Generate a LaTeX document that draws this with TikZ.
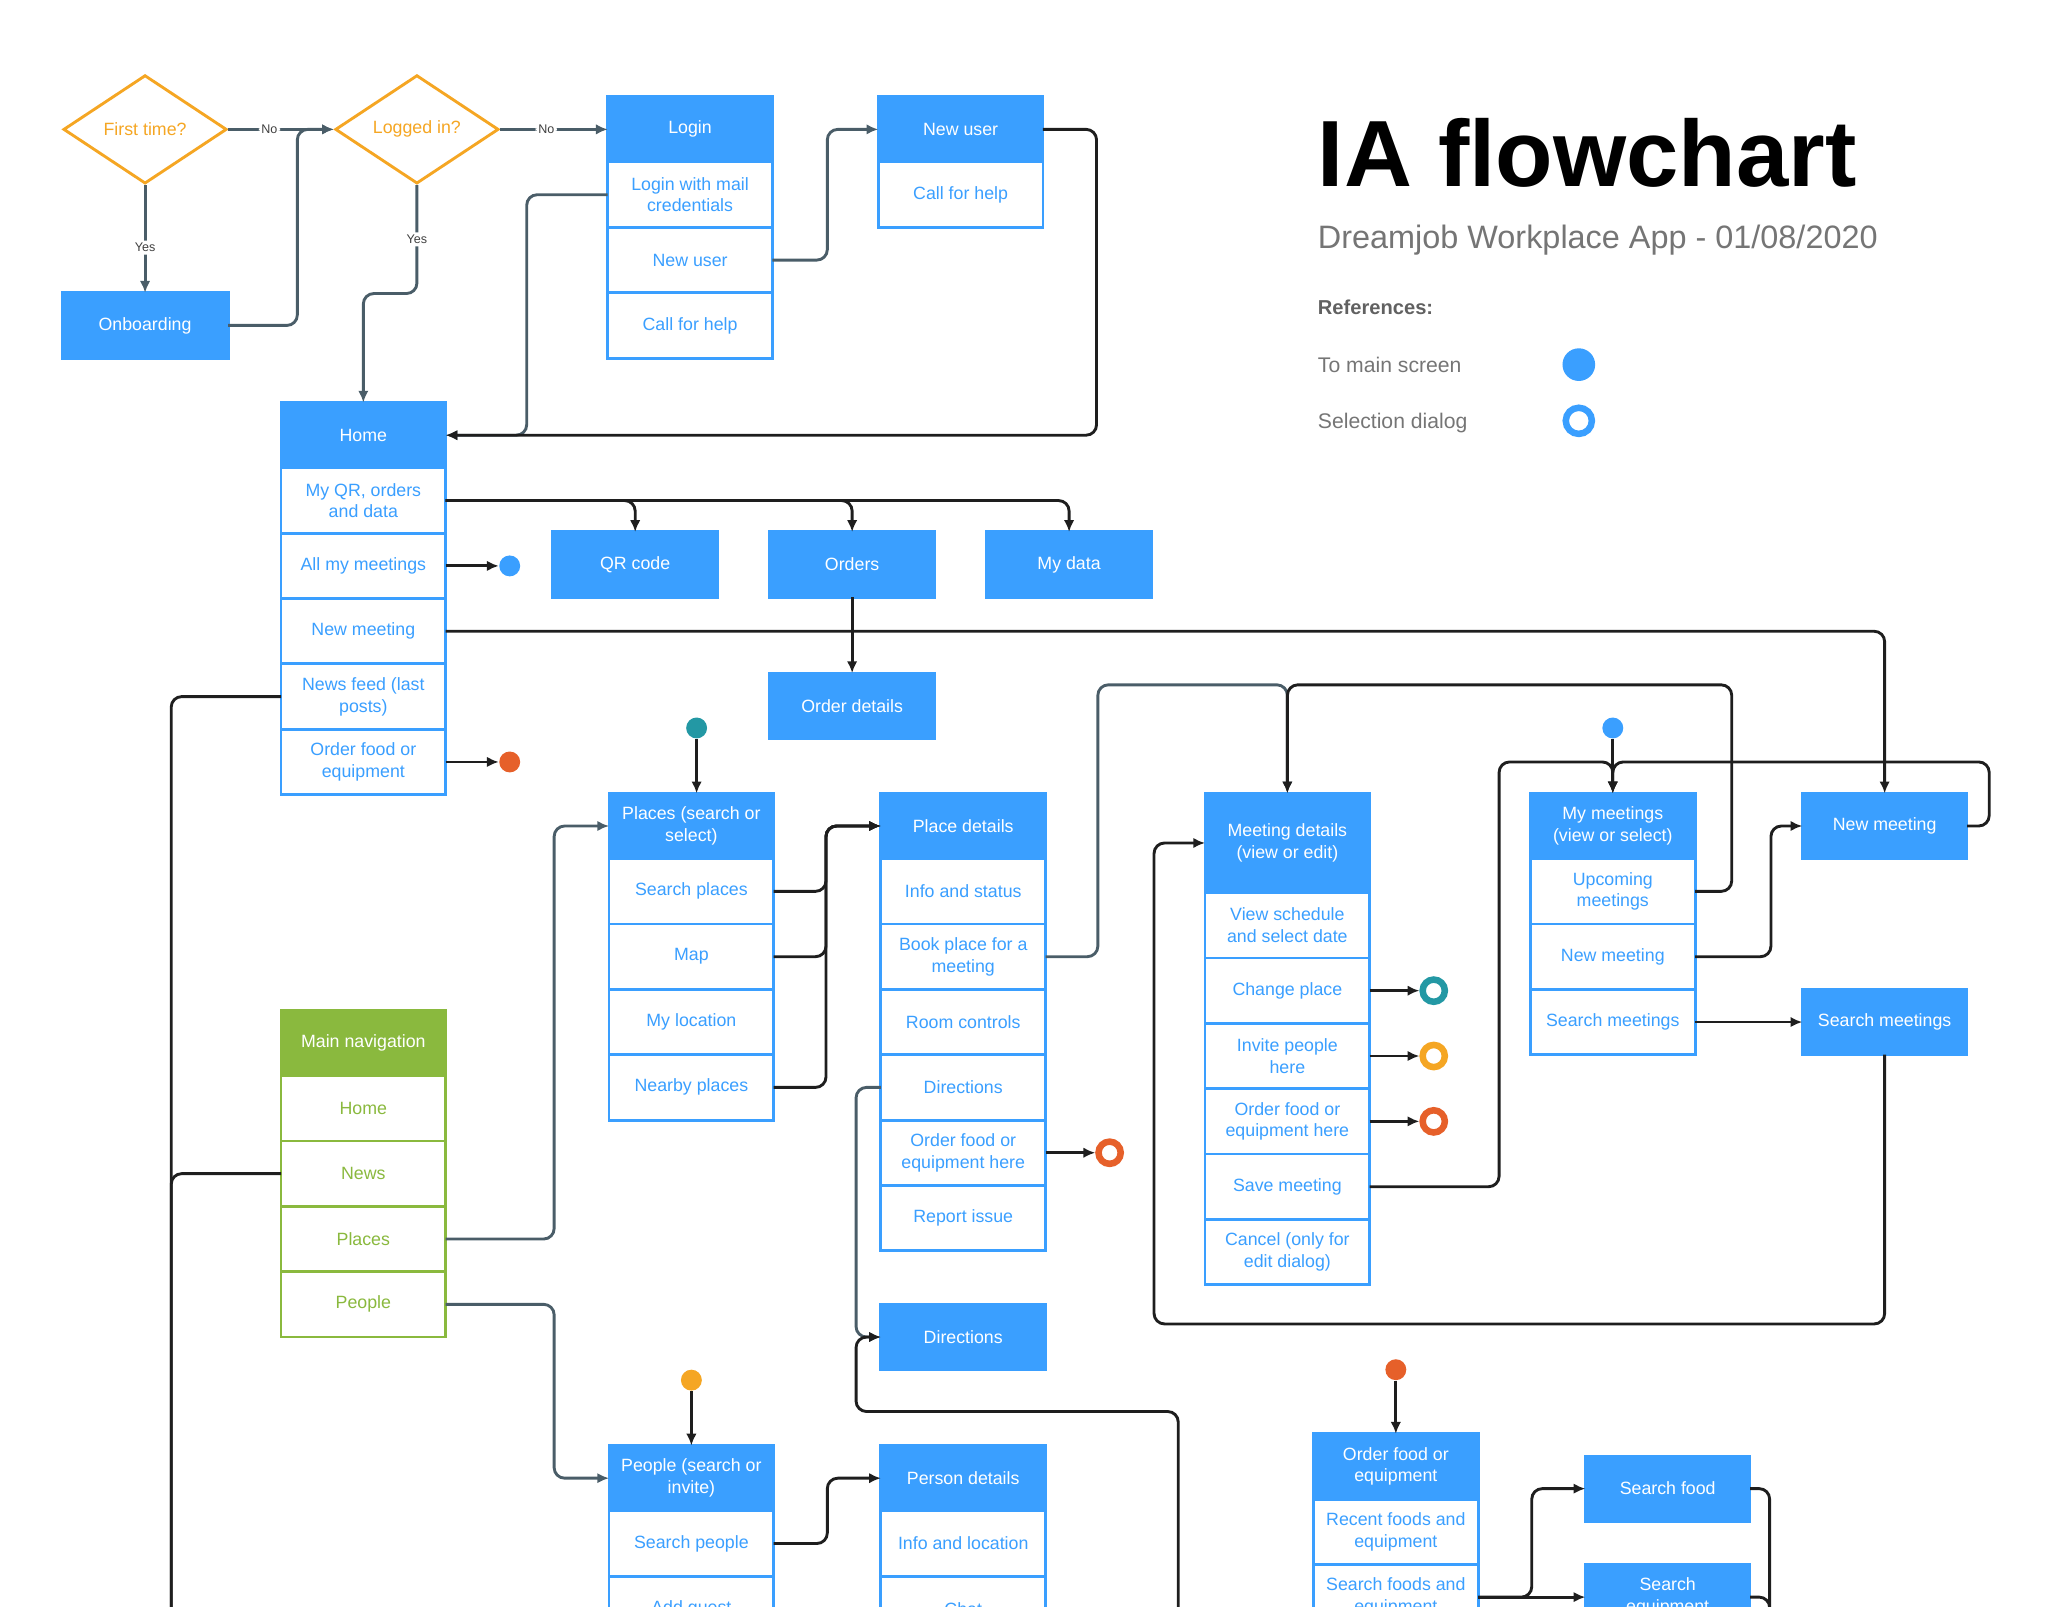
\documentclass[tikz,border=0pt]{standalone}
\usepackage{fontspec}
\setmainfont{Liberation Sans}
\usetikzlibrary{shapes.geometric,arrows.meta,calc}
\definecolor{bl}{HTML}{3A9FFF}
\definecolor{gr}{HTML}{8AB93E}
\definecolor{orng}{HTML}{F5A623}
\definecolor{tealc}{HTML}{2398A4}
\definecolor{redc}{HTML}{E6602A}
\definecolor{slate}{HTML}{4A5D68}
\definecolor{dk}{HTML}{1E1E1E}
\definecolor{subg}{HTML}{757575}
\newcommand\boxfont{\fontsize{6.8pt}{8.3pt}\selectfont}
\begin{document}
\begin{tikzpicture}[x=0.5pt,y=-0.5pt,
 bx/.style={line width=1.1pt, minimum width=63pt, minimum height=25pt, inner sep=1pt, outer sep=0pt, align=center, font=\boxfont},
 hdr/.style={bx, draw=bl, fill=bl, text=white},
 itm/.style={bx, draw=bl, fill=white, text=bl},
 ghdr/.style={bx, draw=gr, fill=gr, text=white},
 gitm/.style={bx, draw=gr, fill=white, text=gr},
 dia/.style={diamond, aspect=1.5, draw=orng, fill=white, line width=1.1pt, minimum width=62.5pt, minimum height=41.5pt, inner sep=0pt, text=orng, font=\boxfont},
 fdot/.style={circle, minimum size=8pt, inner sep=0pt, fill=#1},
 ring/.style={circle, minimum size=8.5pt, inner sep=0pt, draw=#1, line width=2.5pt},
 conn/.style={draw=dk, line width=1.1pt, rounded corners=4pt, -{Latex[length=4.5pt,width=4pt]}},
 sconn/.style={conn, draw=slate},
 lbl/.style={fill=white, inner sep=1pt, text=black!75, font=\fontsize{4.8pt}{5pt}\selectfont},
 txt/.style={anchor=base west, inner sep=0pt},
]
\useasboundingbox (0,0) rectangle (1567,1229);
\clip (0,0) rectangle (1567,1229);

% title and legend
\node[txt, font=\fontsize{36pt}{40pt}\selectfont\bfseries] (title) at (1008,143) {IA flowchart};
\node[txt, text=subg, font=\fontsize{12.4pt}{14pt}\selectfont] (subtitle) at (1008,190) {Dreamjob Workplace App - 01/08/2020};
\node[txt, text=black!62, font=\fontsize{7.7pt}{9pt}\selectfont\bfseries] (refs) at (1008,241) {References:};
\node[txt, text=subg, font=\fontsize{8.1pt}{9pt}\selectfont] (leg1) at (1008,285) {To main screen};
\node[txt, text=subg, font=\fontsize{8.1pt}{9pt}\selectfont] (leg2) at (1008,328) {Selection dialog};
\node[circle, fill=bl, minimum size=12.5pt, inner sep=0pt] (legdot) at (1208,279) {};
\node[circle, draw=bl, line width=2.5pt, minimum size=10pt, inner sep=0pt] (legring) at (1208,322) {};

% decisions
\node[dia] (ft) at (111,99) {First time?};
\node[dia] (lg) at (319,99) {Logged in?};
\node[hdr, anchor=north west, minimum width=63.5pt] (onb) at (47.5,224) {Onboarding};

% login
\node[hdr, anchor=north west] (login) at (465,74) {Login};
\node[itm, anchor=north] (lmail) at (login.south) {Login with mail\\credentials};
\node[itm, anchor=north] (lnew) at (lmail.south) {New user};
\node[itm, anchor=north] (lhelp) at (lnew.south) {Call for help};
\node[hdr, anchor=north west] (nuser) at (672,74) {New user};
\node[itm, anchor=north] (nhelp) at (nuser.south) {Call for help};

% home
\node[hdr, anchor=north west] (home) at (215,308) {Home};
\node[itm, anchor=north] (hqr) at (home.south) {My QR, orders\\and data};
\node[itm, anchor=north] (hall) at (hqr.south) {All my meetings};
\node[itm, anchor=north] (hnew) at (hall.south) {New meeting};
\node[itm, anchor=north] (hnews) at (hnew.south) {News feed (last\\posts)};
\node[itm, anchor=north] (hfood) at (hnews.south) {Order food or\\equipment};

\node[hdr, anchor=north west] (qr) at (423,407) {QR code};
\node[hdr, anchor=north west] (orders) at (589,407) {Orders};
\node[hdr, anchor=north west] (mydata) at (755,407) {My data};
\node[hdr, anchor=north west] (orderdet) at (589,515) {Order details};

% places
\node[hdr, anchor=north west] (places) at (466,607) {Places (search or\\select)};
\node[itm, anchor=north] (psearch) at (places.south) {Search places};
\node[itm, anchor=north] (pmap) at (psearch.south) {Map};
\node[itm, anchor=north] (ploc) at (pmap.south) {My location};
\node[itm, anchor=north] (pnear) at (ploc.south) {Nearby places};

\node[hdr, anchor=north west] (pdet) at (674,607) {Place details};
\node[itm, anchor=north] (pinfo) at (pdet.south) {Info and status};
\node[itm, anchor=north] (pbook) at (pinfo.south) {Book place for a\\meeting};
\node[itm, anchor=north] (proom) at (pbook.south) {Room controls};
\node[itm, anchor=north] (pdir) at (proom.south) {Directions};
\node[itm, anchor=north] (pfood) at (pdir.south) {Order food or\\equipment here};
\node[itm, anchor=north] (preport) at (pfood.south) {Report issue};
\node[hdr, anchor=north west] (dirbox) at (674,998) {Directions};

% meeting details
\node[hdr, anchor=north west, minimum height=38pt] (mdet) at (922,607) {Meeting details\\(view or edit)};
\node[itm, anchor=north] (mview) at (mdet.south) {View schedule\\and select date};
\node[itm, anchor=north] (mchange) at (mview.south) {Change place};
\node[itm, anchor=north] (minvite) at (mchange.south) {Invite people\\here};
\node[itm, anchor=north] (mfood) at (minvite.south) {Order food or\\equipment here};
\node[itm, anchor=north] (msave) at (mfood.south) {Save meeting};
\node[itm, anchor=north] (mcancel) at (msave.south) {Cancel (only for\\edit dialog)};

% my meetings
\node[hdr, anchor=north west] (mymtg) at (1171,607) {My meetings\\(view or select)};
\node[itm, anchor=north] (upc) at (mymtg.south) {Upcoming\\meetings};
\node[itm, anchor=north] (mynew) at (upc.south) {New meeting};
\node[itm, anchor=north] (mysearch) at (mynew.south) {Search meetings};
\node[hdr, anchor=north west] (newmtg) at (1379,607) {New meeting};
\node[hdr, anchor=north west] (searchmtg) at (1379,757) {Search meetings};

% main navigation
\node[ghdr, anchor=north west] (nav) at (215,773) {Main navigation};
\node[gitm, anchor=north] (navhome) at (nav.south) {Home};
\node[gitm, anchor=north] (navnews) at (navhome.south) {News};
\node[gitm, anchor=north] (navplaces) at (navnews.south) {Places};
\node[gitm, anchor=north] (navpeople) at (navplaces.south) {People};

% people
\node[hdr, anchor=north west] (people) at (466,1106) {People (search or\\invite)};
\node[itm, anchor=north] (pplsearch) at (people.south) {Search people};
\node[itm, anchor=north] (pplguest) at (pplsearch.south) {Add guest};
\node[hdr, anchor=north west] (perdet) at (674,1106) {Person details};
\node[itm, anchor=north] (perinfo) at (perdet.south) {Info and location};
\node[itm, anchor=north] (perchat) at (perinfo.south) {Chat};

% food
\node[hdr, anchor=north west] (food) at (1005,1097) {Order food or\\equipment};
\node[itm, anchor=north] (frecent) at (food.south) {Recent foods and\\equipment};
\node[itm, anchor=north] (fsearch) at (frecent.south) {Search foods and\\equipment};
\node[hdr, anchor=north west] (searchfood) at (1213,1114) {Search food};
\node[hdr, anchor=north west] (searcheq) at (1213,1197) {Search\\equipment};

% reference dots and rings (aligned with the rows they belong to)
\node[fdot=bl] (bdot1) at (hall.east -| 390,0) {};
\node[fdot=redc] (rdot1) at (hfood.east -| 390,0) {};
\node[fdot=tealc] (tdot) at (533,557) {};
\node[fdot=orng] (odot) at (529,1056) {};
\node[fdot=bl] (bdot2) at (1234,557) {};
\node[fdot=redc] (rdot2) at (1068,1048) {};
\node[ring=tealc] (rg1) at (mchange.east -| 1097,0) {};
\node[ring=orng] (rg2) at (minvite.east -| 1097,0) {};
\node[ring=redc] (rg3) at (mfood.east -| 1097,0) {};
\node[ring=redc] (rg4) at (pfood.east -| 849,0) {};

% helper coordinates
\coordinate (lend) at (131,1270);
\coordinate (dsrc) at (901.5,1270);
\coordinate (fend) at (1354,1270);
\coordinate (mtop) at ($(mdet.north)+(0,-83)$);
\coordinate (mytop) at ($(mymtg.north)+(0,-24)$);

% connectors
\draw[sconn] (ft.east) -- node[lbl,pos=0.39]{No} (lg.west);
\draw[sconn] (ft.south) -- node[lbl,pos=0.58]{Yes} (onb.north);
\draw[sconn] (onb.east) -- ++(53,0) |- (lg.west);
\draw[sconn] (lg.east) -- node[lbl,pos=0.43]{No} (login.west);
\draw[sconn] (lg.south) -- node[lbl]{Yes} ++(0,83) -| (home.north);
\draw[sconn] (lmail.west) -- ++(-62,0) |- (home.east);
\draw[sconn] (lnew.east) -- ++(42,0) |- (nuser.west);
\draw[conn] (nuser.east) -- ++(41,0) |- (home.east);

\draw[conn] (hqr.east) -| (qr.north);
\draw[conn] (hqr.east) -| (orders.north);
\draw[conn] (hqr.east) -| (mydata.north);
\draw[conn] (hall.east) -- (bdot1.west);
\draw[conn] (hnew.east) -| (newmtg.north);
\draw[conn,-] (hnews.west) -| (lend);
\draw[conn] (hfood.east) -- (rdot1.west);
\draw[conn] (orders.south) -- (orderdet.north);

\draw[conn] (tdot) -- (tdot |- places.north);
\draw[sconn] (navplaces.east) -- ++(83,0) |- (places.west);
\draw[sconn] (navpeople.east) -- ++(83,0) |- (people.west);
\draw[conn,-] (navnews.west) -| (lend);
\draw[conn] (psearch.east) -- ++(40,0) |- (pdet.west);
\draw[conn] (pmap.east) -- ++(40,0) |- (pdet.west);
\draw[conn] (pnear.east) -- ++(40,0) |- (pdet.west);

\draw[sconn] (pbook.east) -- ++(40,0) |- (mtop) -- (mdet.north);
\draw[conn] (upc.east) -- ++(28,0) |- (mtop) -- (mdet.north);
\draw[conn] (mchange.east) -- (rg1.west);
\draw[conn] (minvite.east) -- (rg2.west);
\draw[conn] (mfood.east) -- (rg3.west);
\draw[conn] (msave.east) -- ++(99,0) |- (mytop) -- (mymtg.north);
\draw[conn] (newmtg.east) -- ++(17,0) |- (mytop) -- (mymtg.north);
\draw[conn] (bdot2) -- (mymtg.north);
\draw[conn] (mynew.east) -- ++(58,0) |- (newmtg.west);
\draw[conn] (mysearch.east) -- (searchmtg.west);
\draw[conn] (searchmtg.south) |- ($(mdet.west)+(-39,368)$) |- (mdet.west);

\draw[sconn] (pdir.west) -- ++(-19,0) |- (dirbox.west);
\draw[conn] (dsrc) |- ($(dirbox.west)+(-19,57)$) |- (dirbox.west);
\draw[conn] (pfood.east) -- (rg4.west);

\draw[conn] (odot) -- (people.north);
\draw[conn] (pplsearch.east) -- ++(41,0) |- (perdet.west);
\draw[conn] (rdot2) -- (food.north);
\draw[conn] (fsearch.east) -- ++(41,0) |- (searchfood.west);
\draw[conn] (fsearch.east) -- (searcheq.west);
\draw[conn,-] (searchfood.east) -| (fend);
\draw[conn,-] (searcheq.east) -| (fend);
\end{tikzpicture}
\end{document}
